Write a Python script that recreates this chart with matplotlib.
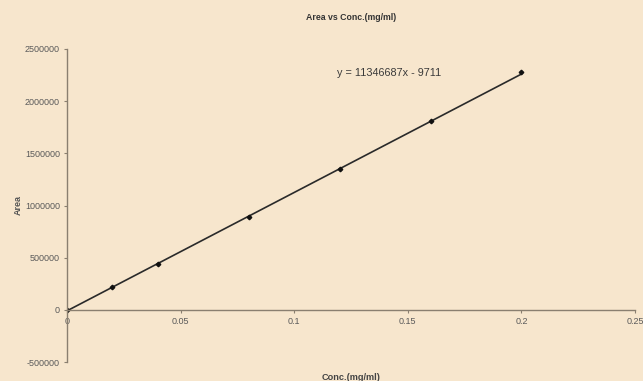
import numpy as np
import matplotlib.pyplot as plt

plt.rcParams['font.family'] = ['Liberation Sans', 'DejaVu Sans']

# konsantrasyon (mg/ml) ve alan
conc = [0, 0.02, 0.04, 0.08, 0.12, 0.16, 0.2]
area = [0, 221000, 442000, 894000, 1346000, 1807000, 2279000]

# trend çizgisi denklemi
slope = 11346687
intercept = -9711

x_ticks = [0, 0.05, 0.1, 0.15, 0.2, 0.25]
y_ticks = [-500000, 0, 500000, 1000000, 1500000, 2000000, 2500000]

bg = '#f7e6cd'
axis_col = '#8a7f70'

fig = plt.figure(figsize=(6.43, 3.81), dpi=100, facecolor=bg)
ax = fig.add_axes([67/643, 1 - 362/381, 568/643, 313/381])
ax.set_facecolor(bg)

xl = np.array([0, 0.2])
ax.plot(xl, slope * xl + intercept, color='#2a2a2a', lw=1.2)
ax.plot(conc, area, linestyle='none', marker='D', ms=2.3, color='#111111')

ax.set_xlim(0, 0.25)
ax.set_ylim(-500000, 2500000)
ax.set_xticks(x_ticks)
ax.set_xticklabels(['0', '0.05', '0.1', '0.15', '0.2', '0.25'])
ax.set_yticks(y_ticks)
ax.set_yticklabels([str(v) for v in y_ticks])

for s in ['top', 'right']:
    ax.spines[s].set_visible(False)
ax.spines['bottom'].set_position(('data', 0))
for s in ['left', 'bottom']:
    ax.spines[s].set_color(axis_col)
    ax.spines[s].set_linewidth(1.0)
ax.tick_params(axis='both', colors=axis_col, labelcolor='#5a5a5a', labelsize=6.5,
               length=2, width=0.8, direction='out', pad=3)

ax.text(0.1188, 2269000, 'y = 11346687x - 9711', fontsize=7.8, color='#3a3a3a', va='center')

fig.text(351/643, 1 - 18/381, 'Area vs Conc.(mg/ml)', ha='center', va='center',
         fontsize=6.3, fontweight='bold', color='#333333')
fig.text(351/643, 1 - 377/381, 'Conc.(mg/ml)', ha='center', va='center',
         fontsize=6.6, fontweight='bold', color='#444444')
fig.text(18/643, 1 - 205/381, 'Area', ha='center', va='center', rotation=90,
         fontsize=6.5, fontweight='bold', color='#555555')

fig.savefig('out.png', dpi=100, facecolor=bg)
